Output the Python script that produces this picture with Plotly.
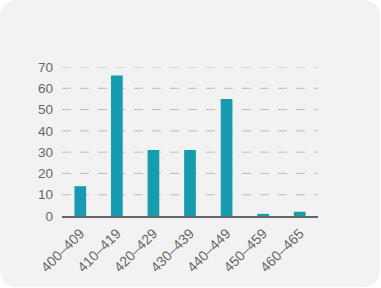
import plotly.graph_objects as go

categories = ["400–409", "410–419", "420–429", "430–439", "440–449", "450–459", "460–465"]
values = [14, 66, 31, 31, 55, 1, 2]
y_ticks = [0, 10, 20, 30, 40, 50, 60, 70]

W, H = 381, 288
ml, mr, mt, mb = 62, 63, 67, 72
pw, ph = W - ml - mr, H - mt - mb

def px(x):
    return (x - ml) / pw

def py(y):
    return (H - mb - y) / ph

r = 18
x0, x1, y0, y1 = 0, 380, 0, 287
path = (f"M {px(x0 + r)} {py(y0)} L {px(x1 - r)} {py(y0)} "
        f"Q {px(x1)} {py(y0)} {px(x1)} {py(y0 + r)} "
        f"L {px(x1)} {py(y1 - r)} Q {px(x1)} {py(y1)} {px(x1 - r)} {py(y1)} "
        f"L {px(x0 + r)} {py(y1)} Q {px(x0)} {py(y1)} {px(x0)} {py(y1 - r)} "
        f"L {px(x0)} {py(y0 + r)} Q {px(x0)} {py(y0)} {px(x0 + r)} {py(y0)} Z")

fig = go.Figure(go.Bar(x=categories, y=values, marker=dict(color="#169bb0", line=dict(width=0)),
                       width=0.32))

grid_shapes = []
for t in y_ticks[1:]:
    grid_shapes.append(dict(type="line", xref="paper", yref="y", x0=0, x1=1, y0=t, y1=t,
                            line=dict(color="#bbbbbb", width=1, dash="dash"), layer="below"))

fig.update_layout(
    width=W, height=H,
    margin=dict(l=ml, r=mr, t=mt, b=mb),
    paper_bgcolor="white",
    plot_bgcolor="rgba(0,0,0,0)",
    showlegend=False,
    font=dict(family="Arial, Liberation Sans, sans-serif", color="#666666", size=13),
    shapes=[dict(type="path", xref="paper", yref="paper", path=path,
                 fillcolor="#f2f2f2", line=dict(width=0), layer="below")] + grid_shapes,
    xaxis=dict(showgrid=False, tickangle=-45, ticks="", showline=True, linecolor="#666666",
               linewidth=1.5, tickfont=dict(size=14), range=[-0.5, 6.5], ticklabelstandoff=2),
    yaxis=dict(range=[0, 70], tickvals=y_ticks, showgrid=False, zeroline=False,
               ticks="", ticklabelstandoff=8, tickfont=dict(size=13.5)),
)

fig.write_html("out.html")
